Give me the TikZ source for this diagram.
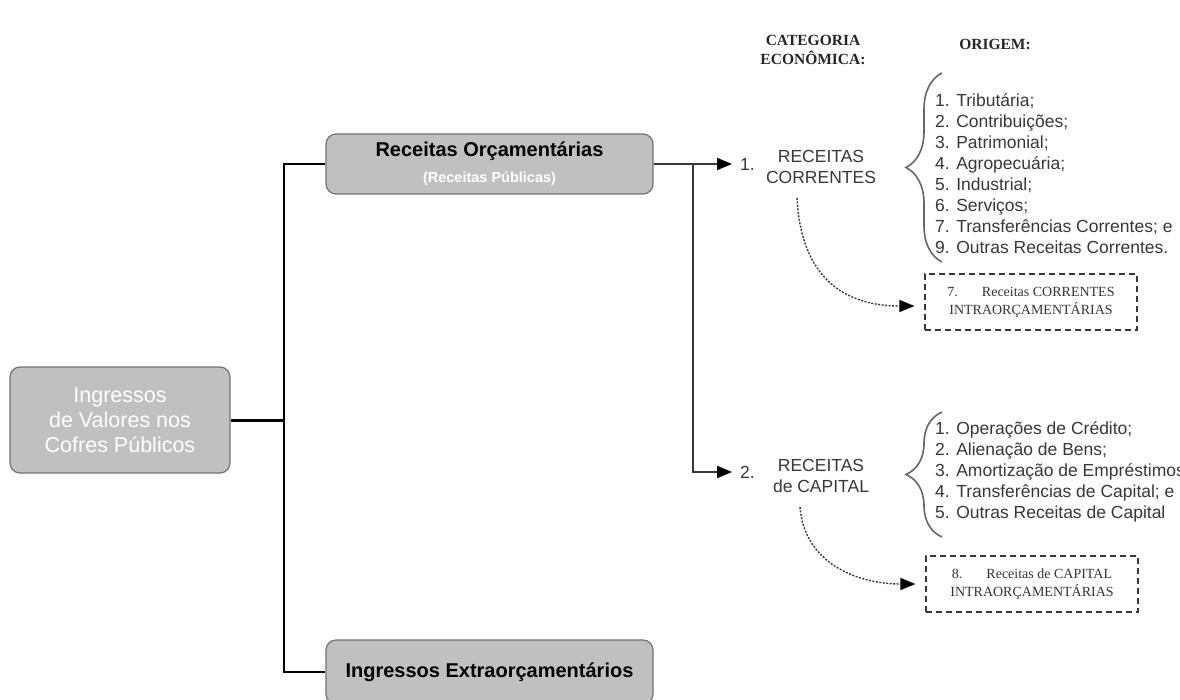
\documentclass[tikz,border=0pt]{standalone}
\usepackage{fontspec}
\setmainfont{Liberation Sans}
\newfontfamily\timesfont{Liberation Serif}
\usetikzlibrary{arrows.meta,decorations.pathreplacing}

\definecolor{boxfill}{RGB}{192,192,192}
\definecolor{boxline}{RGB}{115,115,115}
\definecolor{inkgray}{RGB}{55,55,55}

\begin{document}
\begin{tikzpicture}
  [x=1pt,y=-1pt,
   greybox/.style={draw=boxline,fill=boxfill,rounded corners=10pt,line width=1.2pt,align=center,inner sep=0pt},
   catlabel/.style={text=inkgray,align=center,inner sep=0pt,font=\fontsize{17.5}{21}\selectfont},
   numlabel/.style={text=inkgray,anchor=west,inner xsep=8pt,inner ysep=0pt,font=\fontsize{17.5}{21}\selectfont},
   origlist/.style={text=inkgray,align=left,anchor=west,inner sep=0pt,font=\fontsize{17.5}{21}\selectfont},
   headlabel/.style={align=center,inner sep=0pt,text=black!85,font=\timesfont\bfseries\fontsize{15.5}{19}\selectfont},
   intrabox/.style={draw=inkgray,dash pattern=on 6pt off 4pt,line width=1.2pt,minimum width=212pt,minimum height=56pt,align=center,inner sep=0pt,text=black!80,font=\timesfont\fontsize{14}{18}\selectfont},
   conn/.style={line width=2.4pt},
   arr/.style={line width=1.8pt,draw=inkgray,-{Triangle[length=15pt,width=12pt,color=black]}},
   dotarr/.style={line width=1.4pt,draw=inkgray,dash pattern=on 2pt off 1.5pt,-{Triangle[length=15pt,width=12pt,color=black]}},
   bracestyle/.style={decorate,decoration={brace,amplitude=36pt},line width=1.6pt,draw=black!60}]
  \useasboundingbox (0,0) rectangle (1180,700);
  \clip (0,0) rectangle (1180,700);

  % boxes on the left
  \node[greybox,minimum width=220pt,minimum height=106pt,text=white,font=\fontsize{21.5}{25}\selectfont] (ingressos) at (120,420) {Ingressos\\de Valores nos\\Cofres Públicos};
  \node[greybox,minimum width=327pt,minimum height=60pt,font=\fontsize{20}{26}\selectfont] (orcam) at (489.5,164) {{\bfseries Receitas Orçamentárias}\\{\color{white}\bfseries\fontsize{14.5}{16}\selectfont (Receitas Públicas)}};
  \node[greybox,minimum width=327pt,minimum height=64pt,font=\bfseries\fontsize{20}{24}\selectfont] (extra) at (489.5,672) {Ingressos Extraorçamentários};

  \coordinate (trunk) at (284,420);
  \draw[conn,line width=3pt] (ingressos.east) -- (trunk);
  \draw[conn] (orcam.west) -| (trunk);
  \draw[conn] (extra.west) -| (trunk);

  % categories
  \node[headlabel] (catecon) at (813,50) {CATEGORIA\\ECONÔMICA:};
  \node[headlabel] (origem) at (995,44) {ORIGEM:};

  \node[numlabel] (num1) at (732,164) {1.};
  \node[catlabel] (correntes) at (821,167) {RECEITAS\\CORRENTES};
  \node[numlabel] (num2) at (732,472) {2.};
  \node[catlabel] (capital) at (821,476) {RECEITAS\\de CAPITAL};

  \coordinate (split) at (693,164);
  \draw[arr] (orcam.east) -- (num1.west);
  \draw[arr] (split) |- (num2.west);

  % origins
  \node[origlist] (origcor) at (935,174) {1. Tributária;\\2. Contribuições;\\3. Patrimonial;\\4. Agropecuária;\\5. Industrial;\\6. Serviços;\\7. Transferências Correntes; e\\9. Outras Receitas Correntes.};
  \node[origlist] (origcap) at (935,472) {1. Operações de Crédito;\\2. Alienação de Bens;\\3. Amortização de Empréstimos;\\4. Transferências de Capital; e\\5. Outras Receitas de Capital};

  \coordinate (b1top) at (942,73);
  \coordinate (b1bot) at (942,262);
  \coordinate (b2top) at (942,412);
  \coordinate (b2bot) at (942,537);
  \draw[bracestyle] (b1bot) -- (b1top);
  \draw[bracestyle] (b2bot) -- (b2top);

  % intra-budget
  \node[intrabox] (intracor) at (1031,302) {7.\hspace{24pt}Receitas CORRENTES\\INTRAORÇAMENTÁRIAS};
  \node[intrabox] (intracap) at (1032,584) {8.\hspace{24pt}Receitas de CAPITAL\\INTRAORÇAMENTÁRIAS};

  \draw[dotarr] ([xshift=-24pt,yshift=-14pt]correntes.south) .. controls +(4,80) and +(-70,0) .. ([xshift=-10pt,yshift=-4pt]intracor.west);
  \draw[dotarr] ([xshift=-21pt,yshift=-14pt]capital.south) .. controls +(4,55) and +(-60,0) .. ([xshift=-10pt]intracap.west);
\end{tikzpicture}
\end{document}
